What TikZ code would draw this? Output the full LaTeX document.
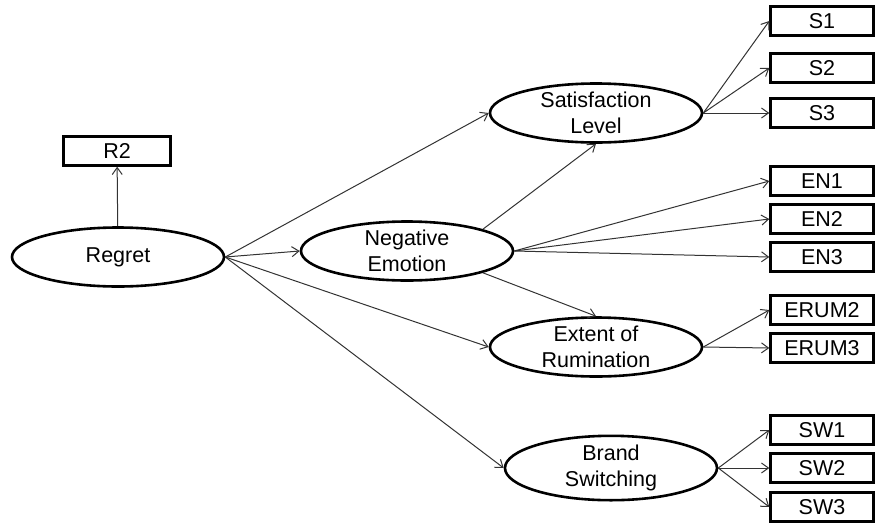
\documentclass[tikz,border=0pt]{standalone}
\usepackage{fontspec}
\setmainfont{Liberation Sans}
\usetikzlibrary{arrows.meta, positioning, shapes.geometric}

\begin{document}
\begin{tikzpicture}[x=1pt, y=-1pt, >={Straight Barb[length=7pt, width=10pt]},
    latent/.style={ellipse, draw, line width=2.6pt, minimum width=212pt, minimum height=59pt, inner sep=0pt, align=center, font=\fontsize{21.5}{25.5}\selectfont},
    item/.style={rectangle, draw, line width=2.4pt, minimum width=103pt, minimum height=29pt, inner sep=0pt, font=\fontsize{21.5}{25}\selectfont},
    link/.style={->, line width=1pt, draw=black!80}]
            \useasboundingbox (0,0) rectangle (876,523);

            % latent variables
            \node[latent] (regret) at (118,257) {Regret};
            \node[latent] (satis) at (596,113) {Satisfaction\\Level};
            \node[latent] (negemo) at (407,251) {Negative\\Emotion};
            \node[latent] (extent) at (596,347) {Extent of\\Rumination};
            \node[latent] (brand) at (611,468) {Brand\\Switching};

            % indicators
            \node[item, minimum width=107pt] (r2) at (117,151) {R2};
            \node[item] (s1) at (822,21) {S1};
            \node[item] (s2) at (822,68) {S2};
            \node[item] (s3) at (822,113) {S3};
            \node[item] (en1) at (822,181) {EN1};
            \node[item] (en2) at (822,219) {EN2};
            \node[item] (en3) at (822,257) {EN3};
            \node[item] (erum2) at (822,310) {ERUM2};
            \node[item] (erum3) at (822,348) {ERUM3};
            \node[item] (sw1) at (822,430) {SW1};
            \node[item] (sw2) at (822,468) {SW2};
            \node[item] (sw3) at (822,507) {SW3};

            % structural paths
            \draw[link] (regret) -- (r2);
            \draw[link] (regret.east) -- (satis.west);
            \draw[link] (regret.east) -- (negemo.west);
            \draw[link] (regret.east) -- (extent.west);
            \draw[link] (regret.east) -- (brand.west);
            \draw[link] (negemo.north east) -- (satis.south);
            \draw[link] (negemo.south east) -- (extent.north);

            % measurement paths
            \foreach \m in {s1, s2, s3}
                \draw[link] (satis.east) -- (\m.west);
            \foreach \m in {en1, en2, en3}
                \draw[link] (negemo.east) -- (\m.west);
            \foreach \m in {erum2, erum3}
                \draw[link] (extent.east) -- (\m.west);
            \foreach \m in {sw1, sw2, sw3}
                \draw[link] (brand.east) -- (\m.west);
        \end{tikzpicture}
\end{document}
